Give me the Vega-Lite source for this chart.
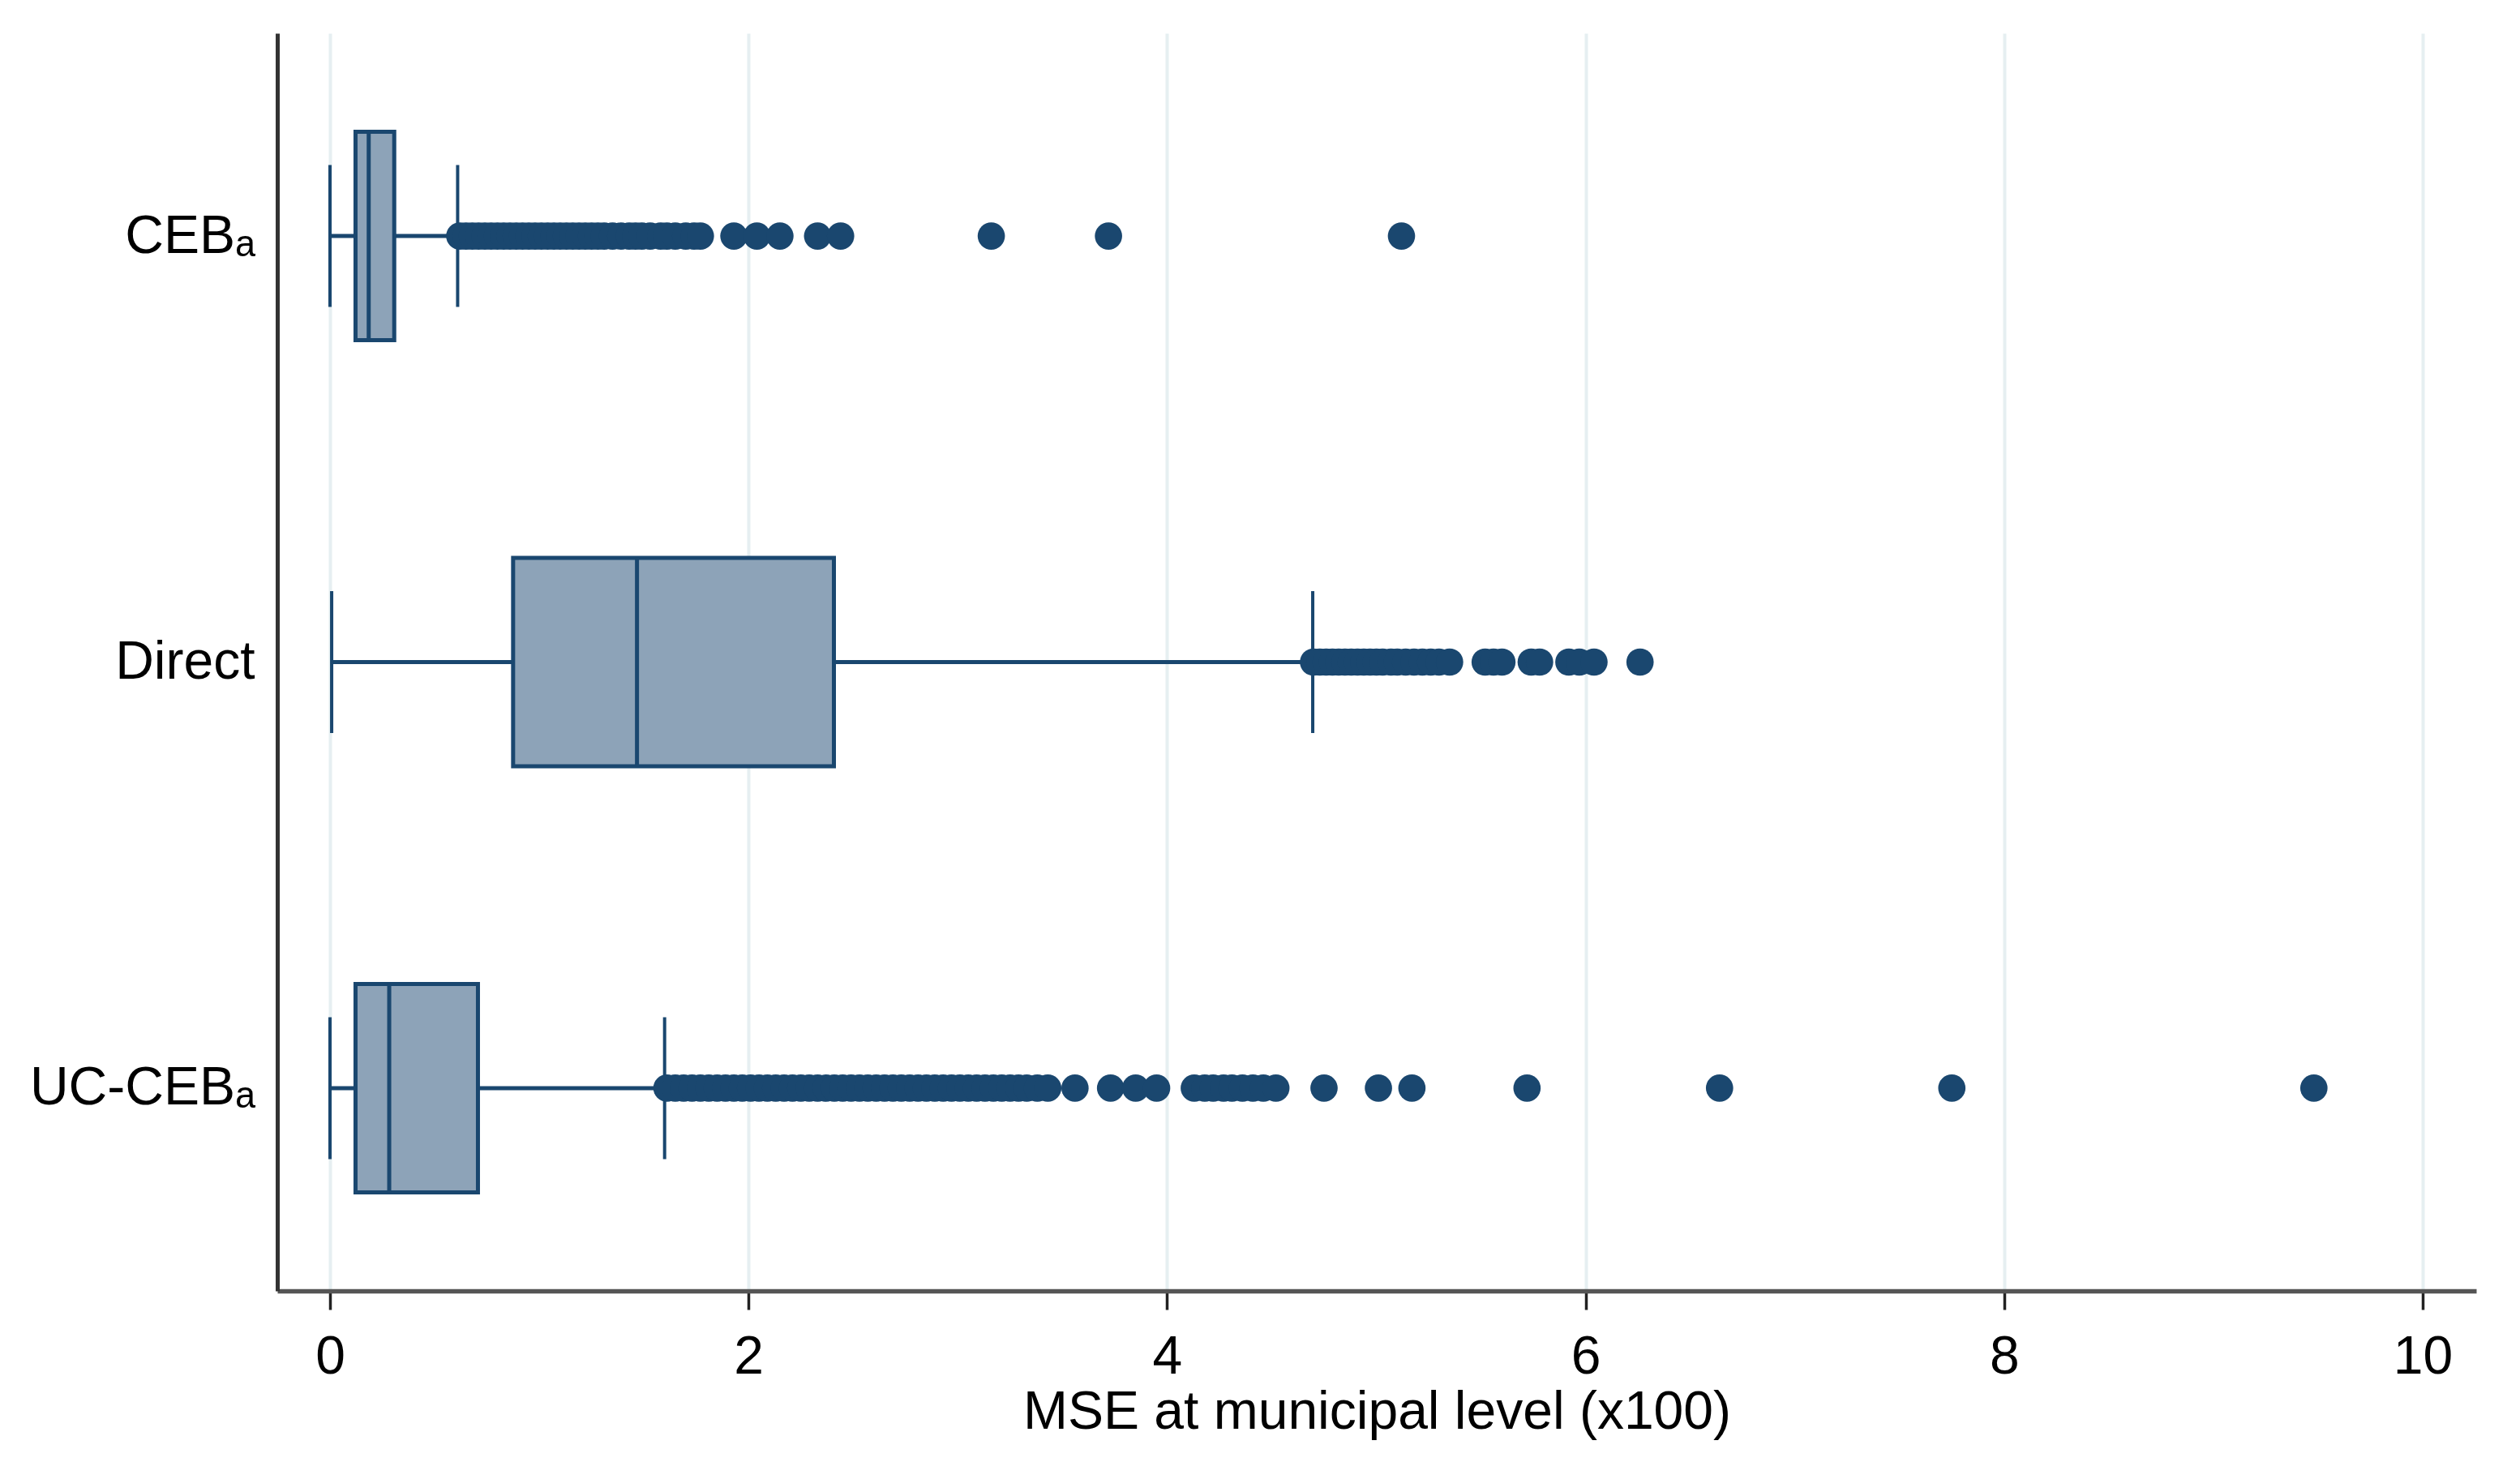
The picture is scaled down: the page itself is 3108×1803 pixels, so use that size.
{
  "$schema": "https://vega.github.io/schema/vega-lite/v6.json",
  "autosize": {"type": "none"},
  "padding": {"left": 342, "top": 41, "right": 54, "bottom": 211},
  "width": 2712,
  "height": 1551,
  "background": "white",
  "config": {
    "view": {"stroke": null},
    "font": "Liberation Sans"
  },
  "datasets": {
    "stats": [
      {"method": "CEBₐ", "lower": 0.0, "q1": 0.122, "median": 0.185, "q3": 0.307, "upper": 0.61},
      {"method": "Direct", "lower": 0.008, "q1": 0.875, "median": 1.467, "q3": 2.408, "upper": 4.696},
      {"method": "UC-CEBₐ", "lower": 0.0, "q1": 0.122, "median": 0.283, "q3": 0.707, "upper": 1.599}
    ],
    "outliers": [
      {"method": "CEBₐ", "mse": 0.62}, {"method": "CEBₐ", "mse": 0.65}, {"method": "CEBₐ", "mse": 0.68}, {"method": "CEBₐ", "mse": 0.71},
      {"method": "CEBₐ", "mse": 0.74}, {"method": "CEBₐ", "mse": 0.77}, {"method": "CEBₐ", "mse": 0.80}, {"method": "CEBₐ", "mse": 0.83},
      {"method": "CEBₐ", "mse": 0.86}, {"method": "CEBₐ", "mse": 0.89}, {"method": "CEBₐ", "mse": 0.92}, {"method": "CEBₐ", "mse": 0.95},
      {"method": "CEBₐ", "mse": 0.98}, {"method": "CEBₐ", "mse": 1.01}, {"method": "CEBₐ", "mse": 1.04}, {"method": "CEBₐ", "mse": 1.07},
      {"method": "CEBₐ", "mse": 1.10}, {"method": "CEBₐ", "mse": 1.13}, {"method": "CEBₐ", "mse": 1.16}, {"method": "CEBₐ", "mse": 1.19},
      {"method": "CEBₐ", "mse": 1.22}, {"method": "CEBₐ", "mse": 1.25}, {"method": "CEBₐ", "mse": 1.28}, {"method": "CEBₐ", "mse": 1.31},
      {"method": "CEBₐ", "mse": 1.35}, {"method": "CEBₐ", "mse": 1.39}, {"method": "CEBₐ", "mse": 1.43}, {"method": "CEBₐ", "mse": 1.46},
      {"method": "CEBₐ", "mse": 1.49}, {"method": "CEBₐ", "mse": 1.53}, {"method": "CEBₐ", "mse": 1.58}, {"method": "CEBₐ", "mse": 1.61},
      {"method": "CEBₐ", "mse": 1.65}, {"method": "CEBₐ", "mse": 1.70}, {"method": "CEBₐ", "mse": 1.74}, {"method": "CEBₐ", "mse": 1.77},
      {"method": "CEBₐ", "mse": 1.93}, {"method": "CEBₐ", "mse": 2.04}, {"method": "CEBₐ", "mse": 2.15}, {"method": "CEBₐ", "mse": 2.33},
      {"method": "CEBₐ", "mse": 2.44}, {"method": "CEBₐ", "mse": 3.16}, {"method": "CEBₐ", "mse": 3.72}, {"method": "CEBₐ", "mse": 5.12},
      {"method": "Direct", "mse": 4.70}, {"method": "Direct", "mse": 4.73}, {"method": "Direct", "mse": 4.76}, {"method": "Direct", "mse": 4.79},
      {"method": "Direct", "mse": 4.82}, {"method": "Direct", "mse": 4.85}, {"method": "Direct", "mse": 4.88}, {"method": "Direct", "mse": 4.91},
      {"method": "Direct", "mse": 4.94}, {"method": "Direct", "mse": 4.97}, {"method": "Direct", "mse": 5.00}, {"method": "Direct", "mse": 5.03},
      {"method": "Direct", "mse": 5.07}, {"method": "Direct", "mse": 5.10}, {"method": "Direct", "mse": 5.14}, {"method": "Direct", "mse": 5.18},
      {"method": "Direct", "mse": 5.22}, {"method": "Direct", "mse": 5.26}, {"method": "Direct", "mse": 5.30}, {"method": "Direct", "mse": 5.35},
      {"method": "Direct", "mse": 5.52}, {"method": "Direct", "mse": 5.56}, {"method": "Direct", "mse": 5.60}, {"method": "Direct", "mse": 5.74},
      {"method": "Direct", "mse": 5.78}, {"method": "Direct", "mse": 5.92}, {"method": "Direct", "mse": 5.97}, {"method": "Direct", "mse": 6.04},
      {"method": "Direct", "mse": 6.26},
      {"method": "UC-CEBₐ", "mse": 1.61}, {"method": "UC-CEBₐ", "mse": 1.65}, {"method": "UC-CEBₐ", "mse": 1.69}, {"method": "UC-CEBₐ", "mse": 1.73},
      {"method": "UC-CEBₐ", "mse": 1.77}, {"method": "UC-CEBₐ", "mse": 1.81}, {"method": "UC-CEBₐ", "mse": 1.85}, {"method": "UC-CEBₐ", "mse": 1.89},
      {"method": "UC-CEBₐ", "mse": 1.93}, {"method": "UC-CEBₐ", "mse": 1.97}, {"method": "UC-CEBₐ", "mse": 2.01}, {"method": "UC-CEBₐ", "mse": 2.05},
      {"method": "UC-CEBₐ", "mse": 2.09}, {"method": "UC-CEBₐ", "mse": 2.13}, {"method": "UC-CEBₐ", "mse": 2.17}, {"method": "UC-CEBₐ", "mse": 2.21},
      {"method": "UC-CEBₐ", "mse": 2.25}, {"method": "UC-CEBₐ", "mse": 2.29}, {"method": "UC-CEBₐ", "mse": 2.33}, {"method": "UC-CEBₐ", "mse": 2.37},
      {"method": "UC-CEBₐ", "mse": 2.41}, {"method": "UC-CEBₐ", "mse": 2.45}, {"method": "UC-CEBₐ", "mse": 2.49}, {"method": "UC-CEBₐ", "mse": 2.53},
      {"method": "UC-CEBₐ", "mse": 2.57}, {"method": "UC-CEBₐ", "mse": 2.61}, {"method": "UC-CEBₐ", "mse": 2.65}, {"method": "UC-CEBₐ", "mse": 2.69},
      {"method": "UC-CEBₐ", "mse": 2.73}, {"method": "UC-CEBₐ", "mse": 2.77}, {"method": "UC-CEBₐ", "mse": 2.81}, {"method": "UC-CEBₐ", "mse": 2.85},
      {"method": "UC-CEBₐ", "mse": 2.89}, {"method": "UC-CEBₐ", "mse": 2.93}, {"method": "UC-CEBₐ", "mse": 2.97}, {"method": "UC-CEBₐ", "mse": 3.01},
      {"method": "UC-CEBₐ", "mse": 3.05}, {"method": "UC-CEBₐ", "mse": 3.09}, {"method": "UC-CEBₐ", "mse": 3.13}, {"method": "UC-CEBₐ", "mse": 3.17},
      {"method": "UC-CEBₐ", "mse": 3.21}, {"method": "UC-CEBₐ", "mse": 3.25}, {"method": "UC-CEBₐ", "mse": 3.29}, {"method": "UC-CEBₐ", "mse": 3.33},
      {"method": "UC-CEBₐ", "mse": 3.38}, {"method": "UC-CEBₐ", "mse": 3.43}, {"method": "UC-CEBₐ", "mse": 3.56}, {"method": "UC-CEBₐ", "mse": 3.73},
      {"method": "UC-CEBₐ", "mse": 3.85}, {"method": "UC-CEBₐ", "mse": 3.95}, {"method": "UC-CEBₐ", "mse": 4.13}, {"method": "UC-CEBₐ", "mse": 4.18},
      {"method": "UC-CEBₐ", "mse": 4.22}, {"method": "UC-CEBₐ", "mse": 4.27}, {"method": "UC-CEBₐ", "mse": 4.31}, {"method": "UC-CEBₐ", "mse": 4.36},
      {"method": "UC-CEBₐ", "mse": 4.41}, {"method": "UC-CEBₐ", "mse": 4.46}, {"method": "UC-CEBₐ", "mse": 4.52}, {"method": "UC-CEBₐ", "mse": 4.75},
      {"method": "UC-CEBₐ", "mse": 5.01}, {"method": "UC-CEBₐ", "mse": 5.17}, {"method": "UC-CEBₐ", "mse": 5.72}, {"method": "UC-CEBₐ", "mse": 6.64},
      {"method": "UC-CEBₐ", "mse": 7.75}, {"method": "UC-CEBₐ", "mse": 9.48}
    ]
  },
  "encoding": {
    "y": {
      "field": "method",
      "type": "nominal",
      "sort": ["CEBₐ", "Direct", "UC-CEBₐ"],
      "scale": {"type": "point", "domain": ["CEBₐ", "Direct", "UC-CEBₐ"], "padding": 0.476},
      "axis": {
        "title": null,
        "ticks": false,
        "grid": false,
        "labelFontSize": 66,
        "labelColor": "#000000",
        "labelPadding": 28,
        "labelLimit": 0,
        "labelFont": "Liberation Sans",
        "domainColor": "#333333",
        "domainWidth": 5
      }
    }
  },
  "layer": [
    {
      "data": {"name": "stats"},
      "mark": {"type": "rule", "color": "#1a476f", "strokeWidth": 5},
      "encoding": {
        "x": {
          "field": "lower",
          "type": "quantitative",
          "scale": {"domain": [-0.2518, 10.2557], "nice": false, "zero": false},
          "axis": {
            "title": "MSE at municipal level (x100)",
            "values": [0, 2, 4, 6, 8, 10],
            "format": "d",
            "grid": true,
            "gridColor": "#e6eff1",
            "gridWidth": 4,
            "domainColor": "#555555",
            "domainWidth": 5.5,
            "tickColor": "#222222",
            "tickSize": 23,
            "tickWidth": 3.5,
            "labelFontSize": 66,
            "labelColor": "#000000",
            "labelPadding": 26,
            "labelFont": "Liberation Sans",
            "titleFontSize": 66,
            "titleFontWeight": "normal",
            "titleColor": "#000000",
            "titleFont": "Liberation Sans",
            "titlePadding": 3
          }
        },
        "x2": {"field": "upper"}
      }
    },
    {
      "data": {"name": "stats"},
      "mark": {"type": "bar", "size": 257, "fill": "#8da3b8", "stroke": "#1a476f", "strokeWidth": 5},
      "encoding": {
        "x": {"field": "q1", "type": "quantitative"},
        "x2": {"field": "q3"}
      }
    },
    {
      "data": {"name": "stats"},
      "mark": {"type": "tick", "orient": "vertical", "size": 257, "thickness": 5, "color": "#1a476f", "opacity": 1},
      "encoding": {
        "x": {"field": "median", "type": "quantitative"}
      }
    },
    {
      "data": {"name": "stats"},
      "mark": {"type": "tick", "orient": "vertical", "size": 175, "thickness": 4, "color": "#1a476f", "opacity": 1},
      "encoding": {
        "x": {"field": "lower", "type": "quantitative"}
      }
    },
    {
      "data": {"name": "stats"},
      "mark": {"type": "tick", "orient": "vertical", "size": 175, "thickness": 4, "color": "#1a476f", "opacity": 1},
      "encoding": {
        "x": {"field": "upper", "type": "quantitative"}
      }
    },
    {
      "data": {"name": "outliers"},
      "mark": {"type": "point", "shape": "circle", "filled": true, "size": 1134, "color": "#1a476f", "opacity": 1, "strokeWidth": 0},
      "encoding": {
        "x": {"field": "mse", "type": "quantitative"}
      }
    }
  ]
}
